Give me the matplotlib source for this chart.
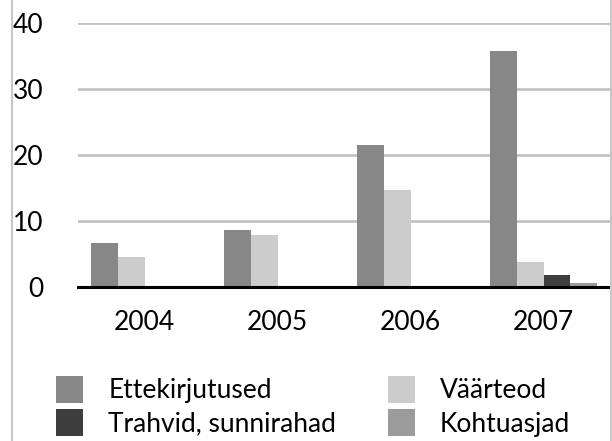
import matplotlib.pyplot as plt
import numpy as np
from matplotlib.lines import Line2D

plt.rcParams['font.family'] = ['Lato', 'DejaVu Sans']

years = ['2004', '2005', '2006', '2007']
series = ['Ettekirjutused', 'Väärteod', 'Trahvid, sunnirahad', 'Kohtuasjad']
ettekirjutused = [6.6, 8.6, 21.5, 35.8]
vaarteod = [4.5, 7.9, 14.7, 3.8]
trahvid = [0, 0, 0, 1.8]
kohtuasjad = [0, 0, 0, 0.6]
colors = ['#878787', '#cbcccb', '#3c3d3c', '#9b9b9b']

fig = plt.figure(figsize=(6.12, 4.41), dpi=100)
ax = fig.add_axes([78/612, 1-286.7/441, 532/612, 263.4/441])

x = np.arange(len(years))
w = 0.2
bars = []
for k, vals in enumerate([ettekirjutused, vaarteod, trahvid, kohtuasjad]):
    b = ax.bar(x + (k-1.5)*w, vals, w, color=colors[k], label=series[k], zorder=2)
    bars.append(b)

ax.set_xlim(-0.5, 3.5)
ax.set_ylim(0, 40)
ax.set_yticks([0, 10, 20, 30, 40])
ax.set_xticks(x)
ax.set_xticklabels(years)
ax.yaxis.grid(True, color='#c0c0c0', lw=1.9, zorder=0)
ax.set_axisbelow(True)
for s in ['top', 'right', 'left']:
    ax.spines[s].set_visible(False)
ax.spines['bottom'].set_linewidth(2.2)
ax.spines['bottom'].set_color('black')
ax.spines['bottom'].set_zorder(3)
ax.tick_params(axis='both', length=0, labelsize=19)
ax.tick_params(axis='y', pad=25)
ax.tick_params(axis='x', pad=17)

# chart area border (left and right edges)
fig.add_artist(Line2D([12/612, 12/612], [0, 1], color='#c8c8c8', lw=1.5))
fig.add_artist(Line2D([611/612, 611/612], [0, 1], color='#c8c8c8', lw=1.5))

handles = [bars[0], bars[2], bars[1], bars[3]]
labels = [series[0], series[2], series[1], series[3]]
fig.legend(handles, labels, ncol=2, frameon=False, fontsize=19,
           loc='upper left', bbox_to_anchor=(56/612, 1-376/441),
           handlelength=1.03, handleheight=1.2, handletextpad=0.95,
           labelspacing=0.22, columnspacing=1.95, borderpad=0, borderaxespad=0)

fig.savefig('out.png', dpi=100)
